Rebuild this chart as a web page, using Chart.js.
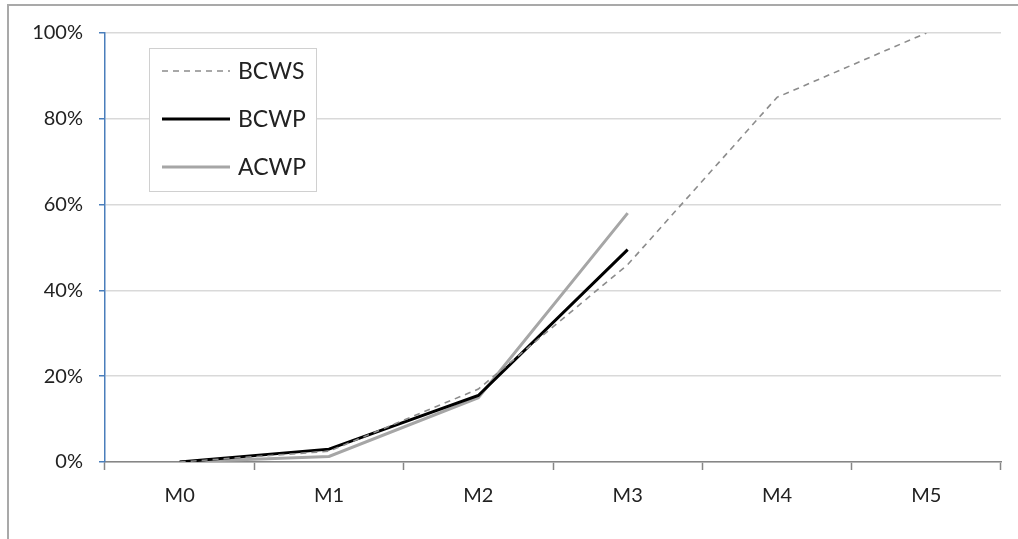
<!DOCTYPE html>
<html>
<head>
<meta charset="utf-8">
<script src="https://cdn.jsdelivr.net/npm/chart.js@4/dist/chart.umd.min.js"></script>
<style>
  html, body { margin: 0; padding: 0; background: #fff; }
  #wrap { position: relative; width: 1018px; height: 539px; }
  #frame {
    position: absolute; left: 7px; top: 4px; right: 0; bottom: 0;
    border-left: 2px solid #a9a9a9; border-top: 2px solid #a9a9a9;
    pointer-events: none;
  }
  canvas { position: absolute; left: 0; top: 0; }
</style>
</head>
<body>
<div id="wrap">
  <canvas id="evChart" width="1018" height="539"></canvas>
  <div id="frame"></div>
</div>
<script>
// ---- data (percent of budget) ----
const months = ['M0', 'M1', 'M2', 'M3', 'M4', 'M5'];
const bcws = [0, 2.5, 17, 46, 85, 100];
const bcwp = [0, 3, 15.5, 49.5, null, null];
const acwp = [0, 1.3, 15, 58, null, null];
const yTicks = [0, 20, 40, 60, 80, 100];

const FONT = 'Lato, "Liberation Sans", sans-serif';

// legend drawn inside the plot, top-left
const boxLegend = {
  id: 'boxLegend',
  afterDraw(chart) {
    const c = chart.ctx;
    const x0 = 149, y0 = 48, w = 167, h = 143;
    c.save();
    c.fillStyle = '#fff';
    c.fillRect(x0, y0, w, h);
    c.strokeStyle = '#d0d0d0';
    c.lineWidth = 1;
    c.strokeRect(x0 + 0.5, y0 + 0.5, w, h);
    c.font = '23px ' + FONT;
    c.textBaseline = 'middle';
    c.fillStyle = '#222';
    chart.data.datasets.forEach((ds, i) => {
      const y = 71 + i * 48;
      c.beginPath();
      c.setLineDash(ds.borderDash || []);
      c.strokeStyle = ds.borderColor;
      c.lineWidth = ds.borderWidth;
      c.moveTo(162, y);
      c.lineTo(230, y);
      c.stroke();
      c.setLineDash([]);
      c.fillText(ds.label, 238, y + 1);
    });
    c.restore();
  }
};

new Chart(document.getElementById('evChart'), {
  type: 'line',
  data: {
    labels: months,
    datasets: [
      {
        label: 'BCWS',
        data: bcws,
        borderColor: '#8c8c8c',
        borderWidth: 1.6,
        borderDash: [6, 5]
      },
      {
        label: 'BCWP',
        data: bcwp,
        borderColor: '#000',
        borderWidth: 3
      },
      {
        label: 'ACWP',
        data: acwp,
        borderColor: '#a6a6a6',
        borderWidth: 3
      }
    ]
  },
  options: {
    responsive: false,
    animation: false,
    events: [],
    layout: { padding: { top: 33, right: 17, left: 0, bottom: 0 } },
    elements: {
      point: { radius: 0 },
      line: { tension: 0, spanGaps: false }
    },
    plugins: {
      legend: { display: false },
      tooltip: { enabled: false }
    },
    scales: {
      x: {
        offset: true,
        grid: {
          offset: true,
          drawOnChartArea: false,
          drawTicks: true,
          tickLength: 8,
          tickColor: '#868686',
          tickWidth: 1.5
        },
        border: { color: '#868686', width: 1.5 },
        ticks: {
          padding: 14,
          color: '#222',
          font: { family: FONT, size: 20 },
          maxRotation: 0
        },
        afterFit(scale) { scale.height = 77; }
      },
      y: {
        min: 0,
        max: 100,
        afterBuildTicks(scale) {
          scale.ticks = yTicks.map(v => ({ value: v }));
        },
        grid: {
          color: '#d9d9d9',
          lineWidth: 1.5,
          tickLength: 6,
          tickColor: '#4a7ebb',
          tickWidth: 1.5
        },
        border: { color: '#4a7ebb', width: 1.5 },
        ticks: {
          padding: 16,
          color: '#222',
          font: { family: FONT, size: 20 },
          callback: v => v + '%'
        },
        afterFit(scale) { scale.width = 105; }
      }
    }
  },
  plugins: [boxLegend]
});
</script>
</body>
</html>
